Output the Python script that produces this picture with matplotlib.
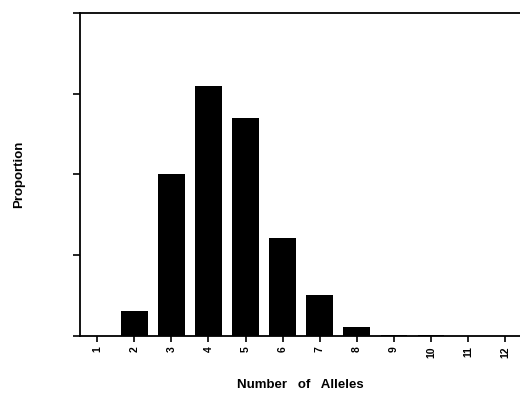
import numpy as np
import matplotlib.pyplot as plt

# allele count distribution
alleles = [1, 2, 3, 4, 5, 6, 7, 8, 9, 10, 11, 12]
proportion = [0.0, 0.031, 0.201, 0.310, 0.270, 0.121, 0.051, 0.011, 0.001, 0.001, 0.0, 0.0]
yticks = [0.0, 0.1, 0.2, 0.3, 0.4]

plt.rcParams['font.family'] = ['Liberation Sans', 'DejaVu Sans']

fig = plt.figure(figsize=(5.2, 3.93), dpi=100)
ax = fig.add_axes([0.154, 0.145, 0.846, 0.822])

ax.bar(alleles, proportion, width=0.72, color='black')

ax.set_xlim(0.54, 12.4)
ax.set_ylim(0, 0.4)
ax.set_xticks(alleles)
ax.set_xticklabels([str(a) for a in alleles], rotation=90, fontsize=7.5, fontweight='bold')
ax.set_yticks(yticks)
ax.set_yticklabels([])
ax.tick_params(axis='x', length=4, width=1.2, direction='out')
ax.tick_params(axis='y', length=5, width=1.2, direction='out')

for s in ['left', 'bottom', 'top']:
    ax.spines[s].set_linewidth(1.3)
ax.spines['right'].set_visible(False)

ax.set_xlabel('Number   of   Alleles', fontsize=9.5, fontweight='bold', labelpad=15)
ax.set_ylabel('Proportion', fontsize=9.5, fontweight='bold')
ax.yaxis.set_label_coords(-0.125, 0.5)

plt.savefig('out.png', dpi=100)
